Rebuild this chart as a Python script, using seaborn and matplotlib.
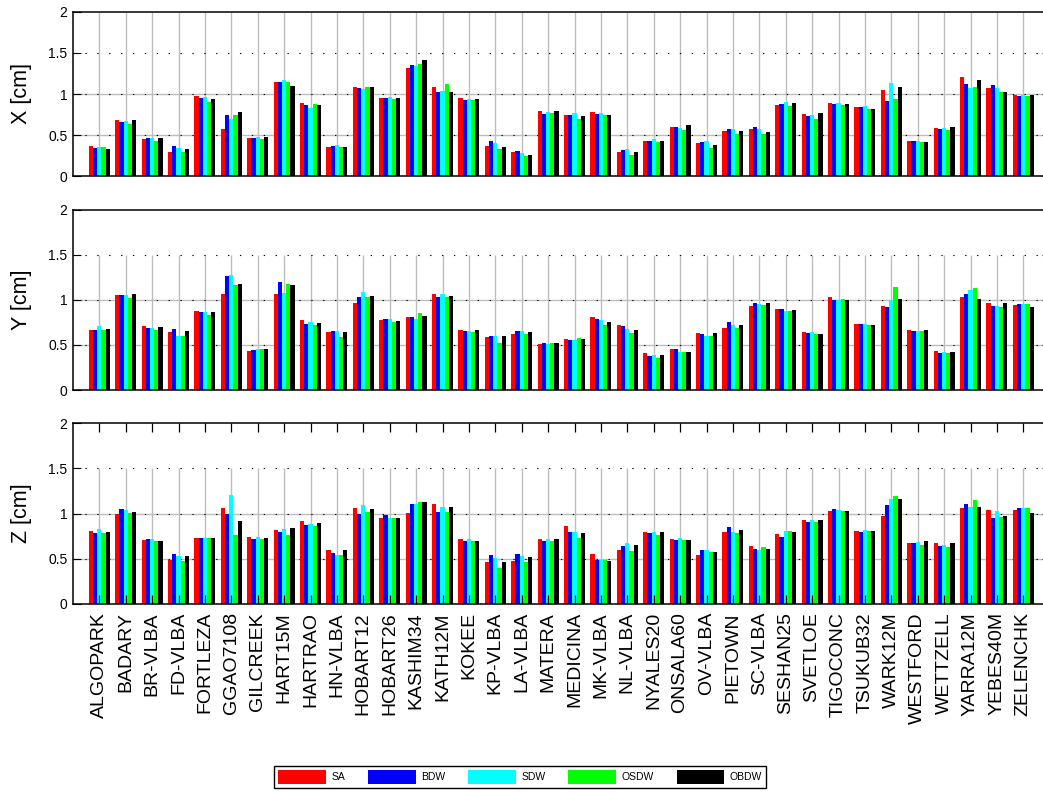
import matplotlib
matplotlib.use("Agg")
import matplotlib.pyplot as plt
import pandas as pd
import seaborn as sns
from matplotlib.patches import Patch

# Stations (x categories) and weighting schemes (hue)
stations = [
    "ALGOPARK", "BADARY", "BR-VLBA", "FD-VLBA", "FORTLEZA", "GGAO7108",
    "GILCREEK", "HART15M", "HARTRAO", "HN-VLBA", "HOBART12", "HOBART26",
    "KASHIM34", "KATH12M", "KOKEE", "KP-VLBA", "LA-VLBA", "MATERA",
    "MEDICINA", "MK-VLBA", "NL-VLBA", "NYALES20", "ONSALA60", "OV-VLBA",
    "PIETOWN", "SC-VLBA", "SESHAN25", "SVETLOE", "TIGOCONC", "TSUKUB32",
    "WARK12M", "WESTFORD", "WETTZELL", "YARRA12M", "YEBES40M", "ZELENCHK",
]
methods = ["SA", "BDW", "SDW", "OSDW", "OBDW"]
method_colors = ["#ff0000", "#0000ff", "#00ffff", "#00ff00", "#000000"]

# X component [cm]
X_SA = [0.37, 0.68, 0.45, 0.30, 0.97, 0.58, 0.47, 1.15, 0.89, 0.36, 1.09, 0.95,
        1.32, 1.09, 0.95, 0.37, 0.29, 0.79, 0.74, 0.78, 0.30, 0.43, 0.60, 0.40,
        0.55, 0.57, 0.87, 0.76, 0.89, 0.84, 1.05, 0.43, 0.59, 1.21, 1.07, 0.99]
X_BDW = [0.34, 0.66, 0.46, 0.37, 0.95, 0.74, 0.46, 1.15, 0.87, 0.37, 1.07, 0.95,
         1.35, 1.02, 0.93, 0.43, 0.31, 0.76, 0.75, 0.76, 0.32, 0.43, 0.60, 0.42,
         0.57, 0.60, 0.88, 0.73, 0.88, 0.84, 0.92, 0.43, 0.57, 1.12, 1.11, 0.98]
X_SDW = [0.35, 0.67, 0.46, 0.34, 0.96, 0.70, 0.48, 1.17, 0.83, 0.38, 1.06, 0.96,
         1.34, 1.04, 0.94, 0.40, 0.28, 0.78, 0.77, 0.77, 0.33, 0.45, 0.59, 0.43,
         0.58, 0.57, 0.90, 0.74, 0.89, 0.85, 1.13, 0.43, 0.59, 1.07, 1.07, 0.99]
X_OSDW = [0.35, 0.64, 0.43, 0.30, 0.90, 0.75, 0.45, 1.14, 0.88, 0.35, 1.08, 0.94,
          1.37, 1.12, 0.93, 0.33, 0.25, 0.77, 0.70, 0.74, 0.26, 0.42, 0.56, 0.34,
          0.51, 0.51, 0.85, 0.70, 0.87, 0.82, 0.94, 0.42, 0.56, 1.08, 1.03, 0.97]
X_OBDW = [0.33, 0.68, 0.46, 0.33, 0.94, 0.78, 0.48, 1.10, 0.87, 0.36, 1.08, 0.95,
          1.41, 1.02, 0.94, 0.36, 0.26, 0.79, 0.73, 0.74, 0.30, 0.43, 0.62, 0.38,
          0.55, 0.54, 0.89, 0.77, 0.88, 0.82, 1.09, 0.42, 0.60, 1.17, 1.03, 0.99]

# Y component [cm]
Y_SA = [0.67, 1.05, 0.71, 0.64, 0.88, 1.07, 0.43, 1.07, 0.78, 0.64, 0.97, 0.78,
        0.81, 1.06, 0.67, 0.59, 0.62, 0.51, 0.57, 0.81, 0.72, 0.41, 0.45, 0.63,
        0.69, 0.93, 0.90, 0.64, 1.03, 0.73, 0.93, 0.67, 0.43, 1.03, 0.97, 0.94]
Y_BDW = [0.67, 1.05, 0.69, 0.68, 0.86, 1.26, 0.44, 1.20, 0.73, 0.66, 1.03, 0.79,
         0.81, 1.03, 0.65, 0.60, 0.66, 0.52, 0.56, 0.79, 0.71, 0.38, 0.46, 0.62,
         0.75, 0.97, 0.90, 0.63, 1.00, 0.73, 0.92, 0.66, 0.41, 1.06, 0.93, 0.95]
Y_SDW = [0.71, 1.05, 0.69, 0.60, 0.86, 1.28, 0.45, 1.08, 0.75, 0.66, 1.09, 0.79,
         0.79, 1.07, 0.65, 0.60, 0.65, 0.51, 0.56, 0.78, 0.68, 0.39, 0.42, 0.60,
         0.72, 0.95, 0.88, 0.64, 1.00, 0.73, 1.00, 0.66, 0.42, 1.11, 0.93, 0.95]
Y_OSDW = [0.67, 1.02, 0.67, 0.60, 0.83, 1.16, 0.46, 1.18, 0.72, 0.59, 1.03, 0.75,
          0.85, 1.03, 0.64, 0.52, 0.62, 0.52, 0.58, 0.72, 0.63, 0.36, 0.42, 0.60,
          0.69, 0.94, 0.88, 0.62, 1.01, 0.72, 1.14, 0.66, 0.41, 1.13, 0.92, 0.95]
Y_OBDW = [0.68, 1.06, 0.70, 0.65, 0.87, 1.18, 0.45, 1.16, 0.74, 0.64, 1.04, 0.76,
          0.82, 1.04, 0.67, 0.60, 0.64, 0.52, 0.57, 0.75, 0.67, 0.39, 0.42, 0.63,
          0.72, 0.97, 0.89, 0.62, 1.00, 0.72, 1.01, 0.67, 0.42, 1.01, 0.97, 0.92]

# Z component [cm]
Z_SA = [0.81, 1.00, 0.71, 0.49, 0.73, 1.06, 0.74, 0.82, 0.92, 0.59, 1.06, 0.95,
        1.01, 1.10, 0.72, 0.46, 0.47, 0.72, 0.86, 0.55, 0.59, 0.80, 0.72, 0.54,
        0.80, 0.64, 0.77, 0.93, 1.03, 0.81, 0.97, 0.67, 0.67, 1.06, 1.04, 1.04]
Z_BDW = [0.78, 1.05, 0.72, 0.55, 0.73, 1.00, 0.72, 0.80, 0.87, 0.56, 1.00, 0.98,
         1.11, 1.02, 0.70, 0.54, 0.55, 0.70, 0.80, 0.49, 0.64, 0.78, 0.71, 0.60,
         0.85, 0.61, 0.74, 0.91, 1.05, 0.79, 1.09, 0.67, 0.64, 1.11, 0.95, 1.06]
Z_SDW = [0.83, 1.04, 0.72, 0.53, 0.73, 1.20, 0.74, 0.83, 0.88, 0.54, 1.09, 0.95,
         1.11, 1.07, 0.72, 0.51, 0.53, 0.72, 0.80, 0.48, 0.67, 0.79, 0.73, 0.59,
         0.80, 0.59, 0.81, 0.93, 1.04, 0.82, 1.16, 0.68, 0.65, 1.07, 1.03, 1.06]
Z_OSDW = [0.78, 1.01, 0.70, 0.47, 0.73, 0.76, 0.72, 0.76, 0.86, 0.54, 1.02, 0.95,
          1.13, 1.02, 0.69, 0.40, 0.46, 0.69, 0.73, 0.49, 0.58, 0.76, 0.71, 0.57,
          0.78, 0.63, 0.81, 0.91, 1.03, 0.81, 1.19, 0.65, 0.63, 1.15, 0.96, 1.06]
Z_OBDW = [0.80, 1.02, 0.70, 0.53, 0.73, 0.92, 0.73, 0.84, 0.89, 0.59, 1.05, 0.95,
          1.13, 1.07, 0.70, 0.46, 0.52, 0.72, 0.78, 0.47, 0.65, 0.80, 0.71, 0.57,
          0.82, 0.61, 0.79, 0.93, 1.03, 0.81, 1.16, 0.69, 0.67, 1.07, 0.97, 1.01]

components = [
    ("X [cm]", [X_SA, X_BDW, X_SDW, X_OSDW, X_OBDW]),
    ("Y [cm]", [Y_SA, Y_BDW, Y_SDW, Y_OSDW, Y_OBDW]),
    ("Z [cm]", [Z_SA, Z_BDW, Z_SDW, Z_OSDW, Z_OBDW]),
]


def long_form(series):
    frames = [pd.DataFrame({"station": stations, "method": m, "value": v})
              for m, v in zip(methods, series)]
    return pd.concat(frames, ignore_index=True)


sns.set_theme(style="white")
plt.rcParams["font.family"] = ["Liberation Sans", "DejaVu Sans"]
plt.rcParams.update({
    "text.color": "black", "axes.labelcolor": "black",
    "xtick.color": "black", "ytick.color": "black",
    "axes.edgecolor": "black",
})

W, H = 1043.0, 792.0
fig = plt.figure(figsize=(W / 100, H / 100), dpi=100)
fig.patch.set_facecolor("white")

left, width = 72.9 / W, 976.8 / W
# (top, bottom) of each panel in pixels
panel_px = [(11.7, 176.3), (209.7, 390.0), (423.3, 603.7)]
grid_gray = "#bdbdbd"

for k, ((label, series), (top, bot)) in enumerate(zip(components, panel_px)):
    ax = fig.add_axes([left, 1 - bot / H, width, (bot - top) / H])
    df = long_form(series)
    sns.barplot(data=df, x="station", y="value", hue="method",
                order=stations, hue_order=methods, palette=method_colors,
                width=0.8, saturation=1, errorbar=None, legend=False,
                edgecolor="none", linewidth=0, ax=ax)

    # grid drawn beneath the bars
    vtop = 2.0 if k == 0 else 1.5
    ax.vlines(range(len(stations)), 0, vtop, color=grid_gray, lw=1.0, zorder=0.5)
    ax.hlines([0.5, 1.0], -1, len(stations), color=grid_gray, lw=1.0, zorder=0.5)
    ax.hlines([0.5, 1.0, 1.5], -1, len(stations), color="black", lw=0.8,
              linestyles=(0, (1.2, 9.5)), zorder=0.6)

    ax.set_axisbelow(False)
    ax.set_xlim(-1, len(stations))
    ax.set_ylim(0, 2)
    ax.set_yticks([0, 0.5, 1, 1.5, 2])
    ax.set_yticklabels(["0", "0.5", "1", "1.5", "2"])
    ax.tick_params(axis="y", direction="in", length=6, width=0.8,
                   labelsize=10, pad=4, left=True, right=True)
    ax.set_xlabel("")
    ax.set_ylabel(label, fontsize=15.5)
    ax.yaxis.set_label_coords(-0.0419, 0.5)
    for sp in ax.spines.values():
        sp.set_color("black")
        sp.set_linewidth(1.1)
        sp.set_visible(True)

    if k < 2:
        ax.tick_params(axis="x", bottom=False, top=False,
                       labelbottom=False, labeltop=False)
    else:
        ax.tick_params(axis="x", direction="in", length=6.5, width=0.9,
                       bottom=True, top=True, labelsize=14, pad=6,
                       labelrotation=90)

handles = [Patch(facecolor=c, edgecolor="none", label=m)
           for m, c in zip(methods, method_colors)]
leg = fig.legend(handles=handles, loc="center",
                 bbox_to_anchor=(520 / W, 1 - 777 / H), ncol=5,
                 fontsize=7.5, handlelength=4.6, handleheight=1.6,
                 handletextpad=0.5, columnspacing=2.2, borderpad=0.4,
                 frameon=True, fancybox=False, edgecolor="black",
                 framealpha=1)
leg.get_frame().set_linewidth(1.0)

fig.savefig("out.png", dpi=100, facecolor="white")
